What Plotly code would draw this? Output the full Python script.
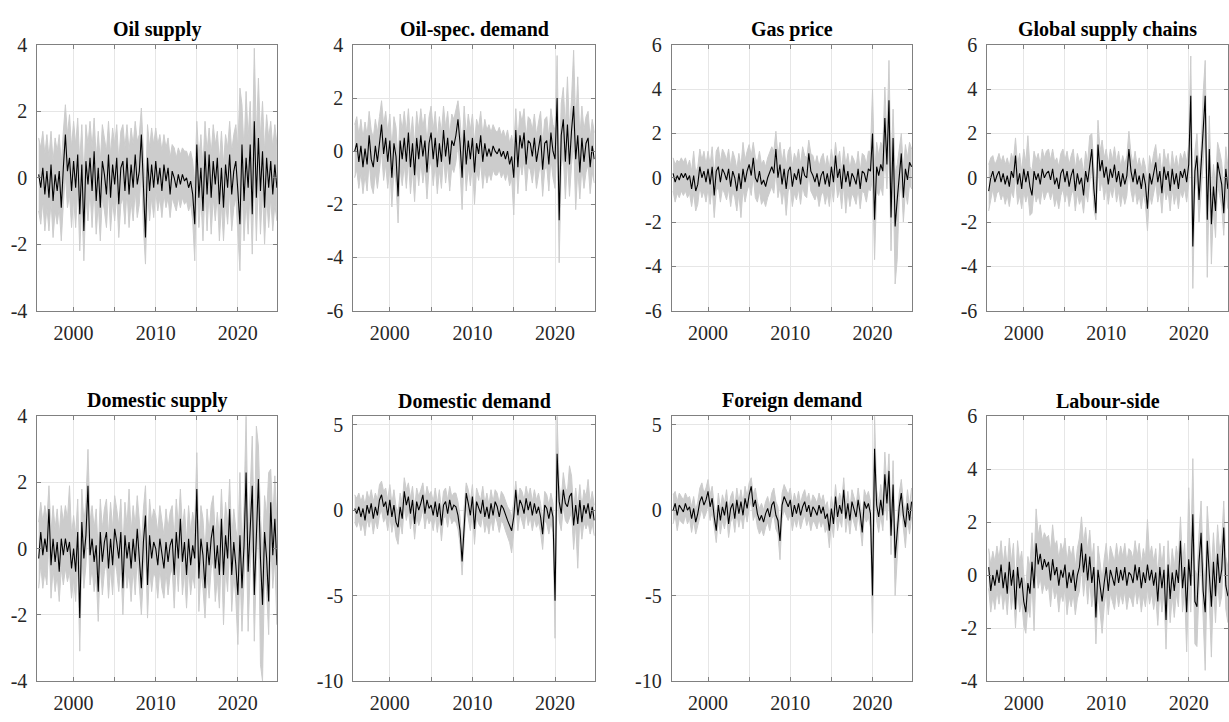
import numpy as np
import pandas as pd
import plotly.graph_objects as go

# Quarterly sample, 1995Q4 - 2024Q4, plotted on a decimal-year axis
quarters = pd.period_range("1995Q4", "2024Q4", freq="Q")
t = np.asarray(quarters.year + (quarters.quarter - 1) / 4.0, dtype=float)

# ---------------------------------------------------------------- Oil supply
oil_supply_med = [
    0.1,
    -0.3, 0.3, -0.5, 0.2,   -0.6, 0.4, -0.7, 0.1,   -0.4, 0.2, -0.9, 0.3,
    1.3, 0.2, 0.6, -0.4,    0.5, -0.3, 0.7, -1.1,   0.4, -1.6, 0.5, -0.2,
    0.6, -0.4, 0.8, -0.7,   0.3, -0.9, 0.5, 0.1,    -0.5, 0.7, -0.6, 0.4,
    -0.2, 0.6, -0.8, 0.3,   0.5, -0.4, 0.6, -0.5,   0.4, -0.3, 0.7, -0.2,
    0.2, 1.3, -0.5, -1.8,   0.6, -0.4, 0.4, -0.3,   0.5, -0.2, 0.3, -0.4,
    0.4, -0.1, 0.3, -0.5,   0.2, 0.0, -0.3, 0.1,    -0.2, 0.1, -0.1, 0.0,
    -0.3, -0.1, -0.5, -1.4, 1.0, -0.6, 0.3, -1.0,   0.8, -0.5, 0.7, -0.6,
    0.5, -0.2, 0.6, -0.8,   0.3, -0.9, 0.4, -0.3,   0.7, -0.5, 0.2, 0.5,
    -0.4, -1.4, 1.0, -0.7,  0.6, -0.3, 1.0, -1.1,   1.7, -0.6, 1.2, -0.4,
    0.8, -0.9, 0.6, -0.3,   0.5, -0.5, 0.4, -0.3,
]
oil_supply_hi = [
    1.2,
    0.9, 1.4, 0.7, 1.3,     0.6, 1.4, 0.5, 1.2,     0.8, 1.3, 0.4, 1.4,
    2.2, 1.3, 1.9, 0.9,     1.7, 1.0, 1.8, 0.5,     1.6, 0.0, 1.6, 1.0,
    1.7, 0.9, 1.8, 0.6,     1.4, 0.5, 1.6, 1.2,     0.8, 1.7, 0.7, 1.5,
    1.0, 1.6, 0.5, 1.4,     1.6, 0.9, 1.6, 0.8,     1.5, 1.0, 1.7, 1.1,
    1.3, 2.1, 0.8, -0.5,    1.6, 0.9, 1.5, 1.0,     1.5, 1.0, 1.3, 0.8,
    1.3, 0.9, 1.2, 0.6,     1.0, 0.9, 0.6, 0.9,     0.7, 0.9, 0.8, 0.8,
    0.6, 0.8, 0.5, -0.2,    1.7, 0.6, 1.3, 0.3,     1.7, 0.8, 1.5, 0.7,
    1.6, 1.0, 1.4, 0.5,     1.4, 0.4, 1.3, 0.9,     1.7, 0.8, 1.3, 1.6,
    0.9, 2.7, 2.2, 0.8,     2.6, 1.2, 2.3, 0.5,     3.9, 1.2, 3.0, 1.2,
    2.3, 0.8, 1.9, 1.2,     1.7, 0.9, 1.6, 1.0,
]
oil_supply_lo = [
    -1.0,
    -1.4, -0.7, -1.6, -0.9, -1.6, -0.7, -1.8, -1.0, -1.4, -0.9, -1.9, -0.8,
    0.1, -0.9, -0.5, -1.5,  -0.6, -1.5, -0.3, -2.2, -0.7, -2.5, -0.6, -1.3,
    -0.4, -1.5, -0.3, -1.7, -0.8, -1.9, -0.6, -1.0, -1.5, -0.4, -1.6, -0.7,
    -1.3, -0.5, -1.8, -0.8, -0.6, -1.4, -0.4, -1.5, -0.7, -1.3, -0.4, -1.2,
    -0.8, 0.3, -1.5, -2.6,  -0.4, -1.3, -0.6, -1.2, -0.4, -1.0, -0.6, -1.2,
    -0.5, -0.9, -0.6, -1.2, -0.6, -0.8, -1.0, -0.6, -0.9, -0.6, -0.8, -0.7,
    -1.0, -0.8, -1.3, -2.5, 0.0, -1.5, -0.6, -1.9,  -0.3, -1.6, -0.4, -1.7,
    -0.6, -1.3, -0.5, -1.9, -0.8, -1.9, -0.7, -1.4, -0.4, -1.6, -0.9, -0.6,
    -1.6, -2.8, -0.2, -1.9, -0.7, -1.7, -0.3, -2.3, 0.2, -1.9, 0.0, -1.7,
    -0.4, -2.0, -0.6, -1.5, -0.6, -1.6, -0.8, -1.3,
]

# ------------------------------------------------------- Oil-specific demand
oil_demand_med = [
    0.0,
    0.3, -0.4, 0.2, -0.6,   0.1, -0.5, 0.6, -0.3,   -0.6, 0.2, -0.4, 0.3,
    1.0, -0.1, 0.5, -0.4,   0.4, -1.0, 0.3, -0.2,   -1.7, 0.4, -0.3, 0.5,
    -0.4, 0.7, -0.6, 0.3,   -0.9, 0.5, -0.3, 0.6,   -0.2, 0.4, -0.8, 0.3,
    0.7, -0.3, 0.5, -0.6,   0.3, -0.4, 0.8, -0.2,   0.5, -0.5, 0.4, 0.2,
    0.6, 1.2, 0.3, -1.0,    0.8, -0.5, 0.4, -0.3,   0.5, -0.8, 0.3, -0.1,
    0.6, -0.4, 0.3, -0.2,   0.1, -0.2, 0.2, 0.0,    -0.1, 0.1, -0.2, 0.0,
    -0.3, 0.0, -0.5, -0.2,  -1.0, 0.8, -0.6, 0.6,   0.1, 0.7, -0.5, 0.4,
    0.3, -0.2, 0.5, -0.4,   0.2, 0.6, -0.7, 0.3,    0.4, -0.5, 0.7, 0.0,
    -0.3, 2.0, -2.6, 0.6,   1.2, -0.4, 1.0, -0.5,   0.8, 1.7, -0.3, 0.6,
    -0.8, 0.5, -0.4, 0.3,   0.5, -0.6, 0.2, -0.3,
]
oil_demand_hi = [
    1.0,
    1.3, 0.6, 1.2, 0.5,     1.1, 0.6, 1.5, 0.8,     0.5, 1.2, 0.7, 1.3,
    1.9, 1.0, 1.5, 0.7,     1.4, 0.1, 1.3, 0.9,     -0.4, 1.4, 0.8, 1.5,
    0.7, 1.6, 0.5, 1.3,     0.2, 1.5, 0.8, 1.6,     0.9, 1.4, 0.3, 1.3,
    1.7, 0.8, 1.5, 0.5,     1.3, 0.7, 1.7, 0.9,     1.5, 0.6, 1.4, 1.2,
    1.5, 1.9, 1.2, 0.1,     1.7, 0.6, 1.4, 0.8,     1.4, 0.3, 1.2, 0.9,
    1.5, 0.6, 1.2, 0.8,     1.0, 0.7, 1.0, 0.8,     0.7, 0.9, 0.6, 0.8,
    0.5, 0.8, 0.3, 0.6,     0.1, 1.6, 0.4, 1.5,     1.1, 1.6, 0.5, 1.3,
    1.2, 0.8, 1.4, 0.6,     1.1, 1.5, 0.3, 1.2,     1.3, 0.5, 1.6, 1.0,
    0.8, 3.6, -0.9, 1.8,    2.4, 0.9, 2.8, 0.8,     2.0, 3.8, 1.0, 2.8,
    0.5, 1.7, 0.8, 1.3,     1.5, 0.5, 1.2, 0.7,
]
oil_demand_lo = [
    -1.0,
    -0.7, -1.4, -0.8, -1.6, -0.9, -1.5, -0.4, -1.3, -1.6, -0.8, -1.4, -0.7,
    0.0, -1.1, -0.5, -1.4,  -0.6, -2.1, -0.7, -1.2, -2.7, -0.6, -1.3, -0.5,
    -1.4, -0.3, -1.6, -0.7, -1.9, -0.5, -1.3, -0.4, -1.2, -0.6, -1.8, -0.7,
    -0.3, -1.3, -0.5, -1.6, -0.7, -1.4, -0.2, -1.2, -0.5, -1.5, -0.6, -0.8,
    -0.4, 0.3, -0.7, -2.2,  -0.2, -1.5, -0.6, -1.3, -0.5, -2.0, -0.7, -1.1,
    -0.4, -1.4, -0.7, -1.2, -0.8, -1.1, -0.7, -0.9, -0.9, -0.7, -1.0, -0.8,
    -1.1, -0.8, -1.3, -1.0, -2.4, -0.2, -1.6, -0.4, -0.9, -0.3, -1.5, -0.6,
    -0.7, -1.2, -0.5, -1.4, -0.8, -0.4, -1.7, -0.7, -0.6, -1.5, -0.3, -1.0,
    -1.4, 0.4, -4.2, -0.6,  -0.1, -1.8, -0.3, -1.7, -0.5, 0.4, -2.2, -0.7,
    -1.8, -0.6, -1.4, -0.8, -0.5, -1.6, -0.8, -1.2,
]

# ----------------------------------------------------------------- Gas price
gas_price_med = [
    0.2,
    -0.2, 0.1, -0.1, 0.2,   0.0, 0.2, -0.1, 0.1,    -0.5, 0.1, -0.6, -0.3,
    0.5, 0.0, 0.3, -0.2,    0.4, -0.3, 0.5, -0.8,   0.3, 0.5, -0.2, 0.4,
    0.2, -0.1, 0.4, -0.4,   0.3, 0.0, -0.6, 0.2,    -0.5, 0.4, -0.2, 0.3,
    0.6, 0.1, 0.9, 0.0,     -0.2, 0.3, -0.3, -0.1,  -0.4, 0.0, 0.3, 0.5,
    0.2, 1.3, 0.0, 0.6,     -0.3, 0.4, -0.5, 0.3,   0.5, -0.4, 0.2, -0.1,
    0.4, -0.3, 0.5, 0.1,    0.0, 1.1, 0.3, 0.1,     -0.2, 0.2, -0.4, 0.1,
    0.3, -0.3, 0.2, -0.4,   0.5, -0.2, 1.0, 0.0,    0.4, -0.5, 0.6, -0.2,
    0.3, -0.4, 0.2, 0.0,    -0.3, 0.4, -0.5, 0.3,   0.2, -0.2, 0.4, 0.3,
    2.0, -1.9, 0.5, 0.1,    0.6, 0.3, 2.7, 0.6,     3.5, -1.8, 1.8, -2.2,
    -1.0, 0.2, 1.1, -0.9,   0.4, -0.1, 0.7, 0.5,
]
gas_price_hi = [
    0.9,
    0.6, 0.8, 0.7, 0.9,     0.7, 0.9, 0.5, 0.8,     0.3, 1.2, 0.2, 0.5,
    1.3, 0.8, 1.2, 0.6,     1.2, 0.6, 1.4, 0.1,     1.2, 1.4, 0.7, 1.3,
    1.1, 0.8, 1.3, 0.5,     1.2, 0.9, 0.4, 1.1,     0.5, 1.6, 0.8, 1.2,
    1.5, 1.0, 1.6, 0.9,     0.7, 1.2, 0.6, 0.8,     0.5, 0.9, 1.2, 1.4,
    1.2, 2.1, 1.0, 1.6,     0.7, 1.3, 0.5, 1.2,     1.4, 0.5, 1.1, 0.8,
    1.3, 0.6, 1.4, 1.0,     0.9, 1.7, 1.1, 1.0,     0.6, 1.0, 0.5, 0.9,
    1.1, 0.5, 1.0, 0.4,     1.3, 0.6, 1.6, 0.8,     1.2, 0.3, 1.4, 0.6,
    1.1, 0.4, 1.0, 0.8,     0.5, 1.2, 0.3, 1.1,     1.0, 0.6, 1.2, 1.2,
    4.0, 0.2, 1.6, 1.0,     1.6, 1.4, 4.1, 1.8,     5.3, 0.5, 3.1, 0.2,
    0.6, 1.4, 2.0, 0.4,     1.5, 0.9, 1.6, 1.3,
]
gas_price_lo = [
    -0.6,
    -1.1, -0.7, -0.9, -0.6, -0.8, -0.6, -0.9, -0.7, -1.3, -0.7, -1.5, -1.2,
    -0.4, -0.9, -0.6, -1.1, -0.5, -1.2, -0.4, -1.8, -0.6, -0.4, -1.1, -0.5,
    -0.7, -1.0, -0.5, -1.3, -0.6, -0.9, -1.5, -0.7, -1.8, -0.5, -1.1, -0.6,
    -0.3, -0.8, 0.1, -0.9,  -1.1, -0.6, -1.2, -1.0, -1.3, -0.9, -0.6, -0.4,
    -0.7, 0.3, -0.9, -0.4,  -1.2, -0.5, -1.7, -0.6, -0.4, -1.3, -0.7, -1.0,
    -0.5, -1.2, -0.4, -0.8, -0.9, 0.2, -0.6, -0.8,  -1.0, -0.7, -1.3, -0.8,
    -0.6, -1.2, -0.7, -1.3, -0.4, -1.1, 0.1, -0.9,  -0.5, -1.4, -0.3, -1.6,
    -0.6, -1.3, -0.7, -0.9, -1.2, -0.5, -1.4, -0.6, -0.7, -1.1, -0.5, -0.6,
    0.0, -3.7, -0.6, -0.8,  -0.4, -0.8, 1.0, -0.5,  1.6, -3.3, 0.2, -4.8,
    -3.7, -0.9, -0.1, -2.0, -0.6, -1.2, -0.3, -0.5,
]

# ----------------------------------------------------- Global supply chains
supply_chains_med = [
    -0.6,
    0.0, 0.3, -0.2, 0.1,    0.3, -0.2, 0.2, -0.3,   0.1, -0.4, 0.3, 0.0,
    1.0, -0.3, 0.2, -0.5,   0.4, -0.2, 0.3, -0.4,   -0.8, 0.3, -0.1, 0.2,
    -0.3, 0.4, 0.0, 0.2,    0.3, -0.1, 0.4, -0.3,   0.0, -0.5, 0.2, 0.4,
    -0.2, 0.3, -0.4, 0.1,   0.4, -0.6, 0.2, -0.3,   0.0, -0.8, 0.3, -0.2,
    0.7, 1.3, -0.5, -1.6,   1.5, 0.3, 0.8, 0.0,     0.5, -0.3, 0.4, 0.0,
    0.6, -0.2, 0.3, -0.4,   0.2, -0.3, 0.1, 1.3,    0.3, -0.2, 0.4, -0.3,
    0.1, -0.5, 0.2, -0.3,   -1.4, 0.2, -0.3, 0.3,   0.7, -0.2, 0.3, -0.7,
    0.5, -0.1, 0.3, -0.6,   0.4, -0.3, 0.2, -0.5,   0.3, 0.0, 0.4, -0.2,
    0.6, 3.7, -3.1, 0.3,    1.0, -1.0, 0.4, 2.3,    3.7, -1.9, 1.3, -2.1,
    -0.4, -1.5, 0.7, 0.2,   -0.3, -1.6, 0.4, -0.5,
]
supply_chains_hi = [
    0.6,
    0.9, 1.0, 0.6, 0.8,     1.1, 0.7, 1.0, 0.6,     0.9, 0.5, 1.1, 0.8,
    1.8, 0.6, 1.1, 0.3,     1.3, 0.7, 1.9, 0.5,     0.3, 1.2, 0.8, 1.1,
    0.6, 1.3, 0.9, 1.2,     1.3, 0.8, 1.3, 0.7,     0.9, 0.5, 1.1, 1.3,
    0.8, 1.2, 0.6, 1.0,     1.3, 0.4, 1.1, 0.7,     0.9, 0.2, 1.2, 0.7,
    1.9, 2.0, 0.5, -0.4,    2.6, 1.2, 1.7, 0.9,     1.3, 0.6, 1.3, 0.8,
    1.4, 0.7, 1.2, 0.5,     1.0, 0.6, 1.0, 2.1,     1.1, 0.6, 1.2, 0.5,
    0.9, 0.4, 0.9, 0.5,     -0.3, 1.0, 0.5, 1.1,    1.5, 0.6, 1.1, 0.1,
    1.3, 0.7, 1.1, 0.2,     1.2, 0.5, 1.0, 0.4,     1.1, 0.8, 1.2, 0.7,
    1.5, 5.5, -1.5, 1.2,    2.0, 0.3, 1.3, 3.8,     5.3, -0.7, 2.8, -0.6,
    0.6, -0.3, 1.6, 1.2,    0.7, -0.5, 1.4, 0.5,
]
supply_chains_lo = [
    -1.5,
    -0.9, -0.5, -1.1, -0.7, -0.6, -1.0, -0.7, -1.2, -0.8, -1.3, -0.6, -0.9,
    0.1, -1.2, -0.8, -1.4,  -0.6, -1.1, -0.7, -1.7, -1.6, -0.6, -1.1, -0.8,
    -1.2, -0.5, -1.0, -0.7, -0.6, -1.0, -0.6, -1.3, -0.9, -1.4, -0.8, -0.5,
    -1.1, -0.6, -1.3, -0.8, -0.5, -1.5, -0.7, -1.2, -0.9, -1.6, -0.6, -1.1,
    -0.2, 0.4, -1.4, -1.9,  0.5, -0.6, -0.1, -1.0,  -0.4, -1.2, -0.5, -0.9,
    -0.3, -1.1, -0.6, -1.3, -0.7, -1.2, -0.8, 0.4,  -0.6, -1.1, -0.5, -1.2,
    -0.8, -1.4, -0.7, -1.2, -2.4, -0.7, -1.2, -0.6, -0.2, -1.1, -0.6, -1.6,
    -0.4, -1.0, -0.6, -1.5, -0.5, -1.2, -0.7, -1.4, -0.6, -0.9, -0.5, -1.1,
    -0.3, 1.9, -5.0, -0.6,  0.0, -2.0, -0.6, 0.9,   2.0, -4.5, -0.2, -3.9,
    -1.4, -2.7, -0.3, -0.8, -1.3, -2.6, -0.6, -1.4,
]

# ------------------------------------------------------------ Domestic supply
dom_supply_med = [
    -0.3,
    0.5, -0.2, 0.3, -0.1,   1.2, -0.5, 0.3, -0.4,   0.2, -0.7, 0.3, -0.2,
    0.3, -0.1, 0.2, -0.6,   0.0, -0.7, 0.5, -2.1,   0.8, -0.3, 0.4, 1.9,
    -0.2, 0.3, -0.4, 0.1,   -1.3, 0.5, -0.4, 0.2,   0.5, -0.6, 0.3, -0.5,
    0.6, 0.2, -0.3, 0.5,    -1.2, 0.4, -0.3, 0.2,   -0.6, 0.3, -0.4, 0.6,
    -0.3, -1.2, 0.2, 1.0,   -1.1, 0.4, -0.3, 0.2,   0.0, -0.5, 0.3, -0.2,
    -0.6, 0.2, -0.4, 0.1,   0.3, -0.8, 0.5, -0.3,   0.9, -0.4, 0.2, -0.8,
    0.3, -0.5, 0.1, -0.3,   1.8, -0.9, 0.3, -0.2,   -1.2, 0.2, -0.5, 0.3,
    0.7, -0.6, 0.1, -0.8,   0.9, -0.8, 0.4, -0.3,   1.2, -0.8, 0.2, -0.5,
    -1.4, 0.4, -1.2, 0.1,   2.3, -0.7, 0.5, 1.9,    -1.4, 0.6, 2.1, -0.3,
    -1.7, 0.5, -0.3, -1.6,  1.4, -0.2, 0.9, -0.5,
]
dom_supply_hi = [
    0.8,
    1.4, 0.8, 1.3, 0.9,     1.9, 0.5, 1.3, 0.6,     1.2, 0.4, 1.3, 0.8,
    1.3, 0.9, 1.9, 0.4,     1.0, 0.4, 1.5, -0.7,    1.8, 0.8, 1.4, 3.0,
    0.8, 1.3, 0.6, 1.2,     -0.1, 1.5, 0.6, 1.2,    1.5, 0.4, 1.4, 0.6,
    1.6, 1.2, 0.7, 1.5,     0.0, 1.4, 0.7, 1.8,     0.5, 1.3, 0.7, 1.6,
    0.8, 0.1, 1.2, 1.9,     0.0, 1.5, 0.8, 1.2,     1.0, 0.5, 1.3, 0.8,
    0.4, 1.2, 0.6, 1.1,     1.3, 0.3, 1.5, 0.7,     1.8, 0.6, 1.2, 0.2,
    1.3, 0.5, 1.1, 0.7,     2.9, 0.1, 1.3, 0.9,     -0.1, 1.2, 0.5, 1.3,
    1.6, 0.4, 1.1, 0.3,     1.8, 0.3, 1.4, 0.7,     2.1, 0.3, 1.2, 0.6,
    0.2, 2.3, 0.0, 1.3,     4.0, 0.5, 1.7, 3.4,     0.3, 3.7, 3.1, 1.0,
    -0.2, 1.6, 1.0, 2.3,    2.4, 0.9, 2.2, 0.8,
]
dom_supply_lo = [
    -1.2,
    -0.5, -1.2, -0.7, -1.1, 0.3, -1.5, -0.6, -1.3,  -0.8, -1.6, -0.6, -1.1,
    -0.6, -1.0, -0.7, -1.5, -0.9, -1.6, -0.4, -3.1, -0.2, -1.2, -0.5, 0.8,
    -1.1, -0.6, -1.3, -0.8, -2.2, -0.4, -1.4, -0.7, -0.4, -1.5, -0.6, -1.4,
    -0.3, -0.7, -1.3, -0.5, -2.0, -0.5, -1.2, -0.7, -1.6, -0.6, -1.4, -0.3,
    -1.2, -2.0, -0.8, 0.1,  -2.1, -0.6, -1.3, -0.7, -0.9, -1.5, -0.6, -1.2,
    -1.5, -0.7, -1.4, -0.8, -0.6, -1.8, -0.4, -1.3, 0.0, -1.4, -0.7, -1.8,
    -0.6, -1.4, -0.8, -1.2, 0.8, -1.9, -0.7, -1.2,  -2.1, -0.8, -1.5, -0.6,
    -0.3, -1.6, -0.9, -1.8, -0.1, -2.3, -0.6, -1.3, 0.2, -1.9, -0.8, -1.5,
    -2.9, -0.6, -2.5, -0.9, 0.6, -2.5, -0.6, 0.4,   -2.8, -0.5, 1.0, -3.5,
    -4.0, -0.7, -1.3, -2.6, 0.3, -1.2, -0.3, -2.3,
]

# ------------------------------------------------------------ Domestic demand
dom_demand_med = [
    0.1,
    -0.2, 0.2, -0.4, 0.1,   -0.6, 0.3, -0.2, 0.4,   -0.5, 0.2, -0.3, 0.6,
    0.9, 0.2, 0.5, -0.3,    0.6, -0.4, 0.3, -0.7,   -1.0, 0.2, -0.5, 1.1,
    0.3, 0.8, -0.2, 0.6,    -0.8, 0.5, 0.0, 0.4,    0.9, -0.2, 0.6, 0.1,
    0.3, -0.3, 0.5, -0.4,   0.4, -0.9, 0.3, 0.5,    -0.2, 0.6, 0.0, 0.3,
    0.2, -0.3, -1.2, -3.0,  -0.6, 1.0, 0.4, -0.3,   0.8, -1.1, 0.5, 0.1,
    -0.2, 0.6, -0.4, 0.2,   -0.5, 0.4, -0.3, 0.5,   0.2, -0.4, 0.3, 0.1,
    -0.3, -0.6, -0.9, -1.2, -0.4, 1.2, -0.3, 0.6,   0.3, -0.2, 0.7, 0.0,
    0.5, -0.3, 0.4, -0.2,   0.2, -0.4, -1.4, 0.3,   0.1, -0.5, 0.2, -0.4,
    -5.3, 3.3, 0.5, -0.2,   1.2, 0.4, 0.2, 0.8,     1.0, -0.9, 0.3, -0.8,
    0.6, -0.7, 0.3, -0.2,   0.4, -0.5, 0.2, -0.6,
]
dom_demand_hi = [
    0.9,
    0.7, 1.0, 0.5, 0.9,     0.3, 1.1, 0.6, 1.2,     0.5, 1.0, 0.6, 1.5,
    1.7, 1.1, 1.3, 0.6,     1.5, 0.4, 1.2, 0.2,     -0.1, 1.0, 0.4, 1.9,
    1.2, 1.6, 0.7, 1.4,     0.1, 1.3, 0.8, 1.2,     1.6, 0.6, 1.4, 0.9,
    1.1, 0.5, 1.3, 0.4,     1.2, 0.0, 1.1, 1.3,     0.6, 1.4, 0.8, 1.0,
    1.0, 0.5, -0.4, -2.2,   0.2, 1.6, 1.2, 0.5,     1.5, -0.3, 1.3, 0.9,
    0.6, 1.4, 0.4, 1.0,     0.3, 1.2, 0.5, 1.2,     1.0, 0.4, 1.1, 0.9,
    0.5, 0.2, 0.0, -0.4,    0.5, 1.7, 0.5, 1.3,     1.1, 0.6, 1.4, 0.8,
    1.3, 0.5, 1.2, 0.6,     1.0, 0.4, -0.6, 1.1,    0.9, 0.3, 1.0, 0.4,
    -3.0, 5.5, 1.5, 0.6,    2.2, 1.3, 1.1, 2.6,     2.0, 0.0, 1.3, 0.2,
    1.5, 0.2, 1.2, 0.8,     1.8, 0.4, 1.1, 0.3,
]
dom_demand_lo = [
    -0.7,
    -1.0, -0.6, -1.2, -0.7, -1.5, -0.5, -1.0, -0.4, -1.4, -0.6, -1.1, -0.3,
    0.0, -0.7, -0.4, -1.2,  -0.3, -1.3, -0.6, -1.6, -2.0, -0.7, -1.4, 0.2,
    -0.6, 0.0, -1.1, -0.3,  -1.7, -0.4, -0.9, -0.5, 0.1, -1.1, -0.3, -0.8,
    -0.5, -1.2, -0.3, -1.3, -0.4, -1.8, -0.5, -0.3, -1.0, -0.2, -0.8, -0.6,
    -0.7, -1.1, -2.0, -3.8, -1.5, 0.2, -0.5, -1.2,  -0.1, -2.0, -0.4, -0.8,
    -1.0, -0.3, -1.3, -0.7, -1.4, -0.5, -1.2, -0.3, -0.7, -1.3, -0.6, -0.8,
    -1.2, -1.5, -1.9, -2.5, -1.3, 0.4, -1.2, -0.2,  -0.6, -1.1, -0.1, -0.9,
    -0.4, -1.2, -0.5, -1.0, -0.7, -1.3, -2.3, -0.6, -0.8, -1.4, -0.7, -1.3,
    -7.5, 1.3, -0.6, -1.2,  0.2, -0.6, -0.8, -0.4,  -0.1, -2.3, -0.8, -3.4,
    -0.4, -1.7, -0.7, -1.1, -0.7, -1.4, -0.8, -1.5,
]

# ------------------------------------------------------------- Foreign demand
for_demand_med = [
    0.0,
    0.4, -0.3, 0.3, 0.1,    -0.1, 0.4, 0.0, 0.2,    -0.5, 0.1, -0.7, -0.2,
    0.5, 0.8, 0.3, 0.6,     1.1, 0.2, 0.7, -0.4,    -1.2, 0.3, -0.6, 0.2,
    -0.3, 0.5, -0.8, 0.1,   0.4, -0.5, 0.6, -0.2,   0.5, -0.3, 0.7, 0.1,
    0.9, 1.4, 0.2, 0.6,     -0.2, -0.6, -0.3, -0.7, -0.2, 0.1, -0.4, 0.3,
    0.5, -0.3, -0.6, -1.8,  0.3, 0.8, 0.5, 0.2,     0.6, -0.4, 0.3, -0.2,
    0.4, -0.3, 0.2, 0.5,    -0.1, 0.3, -0.4, 0.2,   0.0, -0.3, 0.3, -0.2,
    0.2, -0.5, -0.2, -1.2,  0.1, -0.8, 0.8, -0.4,   0.3, -0.2, 1.2, -0.5,
    0.4, -0.6, 0.5, 0.1,    -0.4, 0.6, -0.2, -1.3,  0.5, 0.1, 0.4, -0.2,
    -5.0, 3.6, 0.3, -0.4,   0.6, -0.3, 2.1, 0.4,    2.3, -1.5, 1.5, -2.8,
    -1.5, 0.2, 1.0, -0.3,   -1.0, 0.4, -0.6, 0.5,
]
for_demand_hi = [
    0.9,
    1.1, 0.5, 1.0, 0.8,     0.6, 1.0, 0.7, 0.8,     0.2, 0.8, 0.0, 0.5,
    1.3, 1.6, 1.0, 1.3,     1.8, 0.9, 1.4, 0.3,     -0.5, 1.0, 0.1, 0.9,
    0.4, 1.2, 0.0, 0.8,     1.1, 0.2, 1.3, 0.5,     1.2, 0.4, 1.4, 0.8,
    1.6, 1.9, 0.9, 1.3,     0.5, 0.1, 0.4, 0.0,     0.5, 0.8, 0.3, 1.0,
    1.3, 0.5, 0.2, -1.0,    1.0, 1.5, 1.2, 0.9,     1.3, 0.3, 1.0, 0.5,
    1.1, 0.4, 0.9, 1.2,     0.6, 1.0, 0.3, 0.9,     0.7, 0.4, 1.0, 0.5,
    0.9, 0.2, 0.5, -0.4,    0.8, -0.1, 1.5, 0.3,    1.0, 0.5, 1.9, 0.2,
    1.1, 0.1, 1.2, 0.8,     0.3, 1.3, 0.5, -0.5,    1.2, 0.8, 1.1, 0.5,
    -3.0, 5.5, 1.2, 0.4,    1.5, 0.5, 3.4, 1.3,     3.3, -0.5, 2.9, -1.5,
    -0.6, 1.0, 1.8, 0.5,    -0.2, 1.2, 0.2, 1.3,
]
for_demand_lo = [
    -0.8,
    -0.3, -1.2, -0.5, -0.7, -0.8, -0.3, -0.8, -0.5, -1.3, -0.6, -1.4, -0.9,
    -0.3, 0.1, -0.5, -0.2,  0.3, -0.6, -0.1, -1.2,  -1.9, -0.5, -1.4, -0.6,
    -1.1, -0.3, -1.6, -0.7, -0.4, -1.3, -0.2, -1.0, -0.3, -1.1, -0.1, -0.7,
    0.1, 0.6, -0.6, -0.2,   -1.0, -1.4, -1.1, -1.5, -1.0, -0.7, -1.2, -0.5,
    -0.3, -1.1, -1.4, -2.9, -0.5, 0.0, -0.3, -0.6,  -0.2, -1.2, -0.5, -1.0,
    -0.4, -1.1, -0.6, -0.3, -0.9, -0.5, -1.2, -0.6, -0.8, -1.1, -0.5, -1.0,
    -0.6, -1.3, -1.0, -2.2, -0.7, -1.6, 0.0, -1.2,  -0.5, -1.0, 0.4, -1.3,
    -0.4, -1.4, -0.3, -0.7, -1.2, -0.2, -1.0, -2.1, -0.3, -0.7, -0.4, -1.0,
    -7.2, 1.5, -0.6, -1.3,  -0.3, -1.2, 0.6, -0.6,  1.0, -2.6, 0.2, -5.0,
    -2.6, -0.7, 0.1, -1.2,  -2.2, -0.5, -1.4, -0.4,
]

# ---------------------------------------------------------------- Labour-side
labour_med = [
    0.3,
    -0.6, 0.0, -0.4, 0.2,   -0.3, 0.4, -0.5, 0.1,   -0.7, 0.5, -0.4, 0.2,
    -1.3, 0.3, -0.5, -0.1,  -1.0, -1.4, -0.3, -0.7, 0.5, -0.5, 1.2, 0.4,
    0.8, 0.2, 0.6, 0.3,     0.5, -0.2, 0.6, 0.0,    0.3, -0.4, 0.2, -0.1,
    0.4, -0.5, 0.1, -0.3,   0.2, -0.6, 0.0, 0.3,    1.2, 0.1, 0.8, -0.2,
    0.7, -0.3, 0.3, -1.6,   0.2, -0.4, -1.0, -0.3,  0.3, -0.6, 0.2, -0.1,
    -0.4, 0.3, -0.3, 0.2,   -0.2, 0.3, -0.4, 0.1,   0.0, -0.3, 0.4, -0.2,
    0.3, -0.5, 0.1, -0.3,   0.4, -0.2, 0.2, -0.4,   0.1, -1.0, 0.3, -0.5,
    0.2, -1.7, 0.4, -0.9,   0.1, -0.6, 0.2, -0.3,   1.3, -0.5, 0.3, -1.4,
    0.6, -0.4, 2.3, -1.0,   -1.2, 0.5, 1.6, -0.6,   -1.4, 1.3, 0.2, -1.2,
    0.5, -0.8, 0.8, -0.3,   0.2, 1.8, -0.4, -0.8,
]
labour_hi = [
    1.0,
    0.4, 0.9, 0.5, 1.1,     0.6, 1.3, 0.4, 1.1,     0.3, 1.4, 0.5, 1.2,
    -0.4, 1.3, 0.5, 0.9,    0.0, -0.5, 0.7, 0.3,    1.6, 0.5, 2.5, 1.5,
    1.9, 1.3, 1.6, 1.4,     1.5, 0.9, 1.9, 1.1,     1.3, 0.6, 1.2, 0.9,
    1.4, 0.5, 1.1, 0.7,     1.1, 0.3, 1.0, 1.4,     2.2, 1.2, 1.8, 0.9,
    1.7, 0.6, 1.2, -0.7,    1.1, 0.5, -0.2, 0.6,    1.2, 0.3, 1.1, 0.8,
    0.5, 1.2, 0.6, 1.1,     0.7, 1.2, 0.5, 1.0,     0.9, 0.6, 1.3, 0.7,
    1.2, 0.4, 1.0, 0.6,     2.1, 0.7, 1.1, 0.5,     1.0, 0.0, 1.2, 0.4,
    1.1, -0.8, 1.3, 0.0,    1.0, 0.3, 1.1, 0.6,     2.2, 0.5, 1.2, -0.3,
    3.3, 0.7, 4.4, 0.2,     0.0, 1.6, 2.8, 0.5,     -0.3, 2.6, 1.3, 0.1,
    1.6, 0.3, 1.9, 0.9,     1.3, 2.8, 0.7, 0.3,
]
labour_lo = [
    -0.5,
    -1.4, -0.8, -1.3, -0.6, -1.1, -0.5, -1.3, -0.7, -1.5, -0.4, -1.3, -0.6,
    -2.0, -0.6, -1.4, -1.0, -1.9, -2.2, -1.2, -1.6, -0.3, -2.1, 0.3, -0.5,
    -0.1, -0.7, -0.3, -0.6, -0.4, -1.2, -0.3, -0.9, -0.6, -1.4, -0.7, -1.0,
    -0.5, -1.5, -0.8, -1.2, -0.7, -1.5, -0.9, -0.6, 0.3, -0.8, 0.0, -1.1,
    -0.2, -1.2, -0.6, -2.6, -0.7, -1.4, -2.2, -1.2, -0.6, -1.5, -0.7, -1.0,
    -1.3, -0.6, -1.2, -0.7, -1.1, -0.6, -1.3, -0.8, -0.9, -1.2, -0.5, -1.1,
    -0.6, -1.4, -0.8, -1.2, -0.5, -1.1, -0.7, -1.3, -0.8, -1.9, -0.6, -1.4,
    -0.7, -2.8, -0.5, -1.8, -0.8, -1.6, -0.7, -1.2, 0.4, -1.4, -0.6, -2.9,
    -0.3, -1.4, 1.2, -2.6,  -2.7, -0.5, 0.5, -1.6,  -3.6, 0.2, -1.0, -3.1,
    -0.4, -1.8, -0.2, -1.2, -0.8, 0.8, -1.3, -1.8,
]

titles = ["Oil supply", "Oil-spec. demand", "Gas price", "Global supply chains",
          "Domestic supply", "Domestic demand", "Foreign demand", "Labour-side"]
series = [
    (oil_supply_lo, oil_supply_med, oil_supply_hi),
    (oil_demand_lo, oil_demand_med, oil_demand_hi),
    (gas_price_lo, gas_price_med, gas_price_hi),
    (supply_chains_lo, supply_chains_med, supply_chains_hi),
    (dom_supply_lo, dom_supply_med, dom_supply_hi),
    (dom_demand_lo, dom_demand_med, dom_demand_hi),
    (for_demand_lo, for_demand_med, for_demand_hi),
    (labour_lo, labour_med, labour_hi),
]
y_ranges = [[-4, 4], [-6, 4], [-6, 6], [-6, 6], [-4, 4], [-10, 5.5], [-10, 5.5], [-4, 6]]
y_ticks = [[-4, -2, 0, 2, 4], [-6, -4, -2, 0, 2, 4], [-6, -4, -2, 0, 2, 4, 6],
           [-6, -4, -2, 0, 2, 4, 6], [-4, -2, 0, 2, 4], [-10, -5, 0, 5], [-10, -5, 0, 5],
           [-4, -2, 0, 2, 4, 6]]
x_ticks = [2000, 2005, 2010, 2015, 2020]
x_ticktext = ["2000", "", "2010", "", "2020"]

# Figure geometry (pixels)
W, H = 1229, 722
col_px = [(37.3, 277.3), (353.3, 594.7), (671.7, 912.0), (987.3, 1228.3)]
row_px = [(35, 309), (418, 691)]

BAND = "#cccccc"
FRAME = "#808080"
GRID = "#e6e6e6"
TEXT = "#262626"
FONT = "Liberation Serif, Times New Roman, serif"

fig = go.Figure()
annotations = []
layout_axes = {}

for k, (title, (lo, med, hi)) in enumerate(zip(titles, series)):
    n = k + 1
    xa = "x" if n == 1 else f"x{n}"
    ya = "y" if n == 1 else f"y{n}"
    r, c = divmod(k, 4)
    x0, x1 = col_px[c]
    y0, y1 = row_px[r]

    fig.add_trace(go.Scatter(x=t, y=lo, xaxis=xa, yaxis=ya, mode="lines",
                             line=dict(color=BAND, width=1), hoverinfo="skip"))
    fig.add_trace(go.Scatter(x=t, y=hi, xaxis=xa, yaxis=ya, mode="lines",
                             line=dict(color=BAND, width=1), fill="tonexty",
                             fillcolor=BAND, hoverinfo="skip"))
    fig.add_trace(go.Scatter(x=t, y=med, xaxis=xa, yaxis=ya, mode="lines",
                             line=dict(color="black", width=1.1)))

    common = dict(showline=True, linecolor=FRAME, linewidth=1, mirror="ticks",
                  ticks="inside", ticklen=4, tickcolor=FRAME,
                  showgrid=True, gridcolor=GRID, gridwidth=1, zeroline=False,
                  tickfont=dict(family=FONT, size=20, color=TEXT))
    layout_axes["xaxis" if n == 1 else f"xaxis{n}"] = dict(
        domain=[x0 / W, x1 / W], anchor=ya, range=[1995.58, 2024.8],
        tickmode="array", tickvals=x_ticks, ticktext=x_ticktext,
        ticklabelstandoff=4, **common)
    layout_axes["yaxis" if n == 1 else f"yaxis{n}"] = dict(
        domain=[1 - y1 / H, 1 - y0 / H], anchor=xa, range=y_ranges[k],
        tickmode="array", tickvals=y_ticks[k],
        ticktext=[f"{v:g}" for v in y_ticks[k]],
        ticklabelstandoff=5, **common)

    annotations.append(dict(
        text=f"<b>{title}</b>", xref="paper", yref="paper",
        x=(x0 + x1) / 2 / W, y=1 - y0 / H, xanchor="center", yanchor="bottom",
        yshift=2, showarrow=False, font=dict(family=FONT, size=20, color="black")))

fig.update_layout(
    width=W, height=H, margin=dict(l=0, r=0, t=0, b=0),
    font=dict(family=FONT, size=20, color=TEXT),
    paper_bgcolor="white", plot_bgcolor="white", showlegend=False,
    annotations=annotations, **layout_axes)

fig.write_html("out.html")
